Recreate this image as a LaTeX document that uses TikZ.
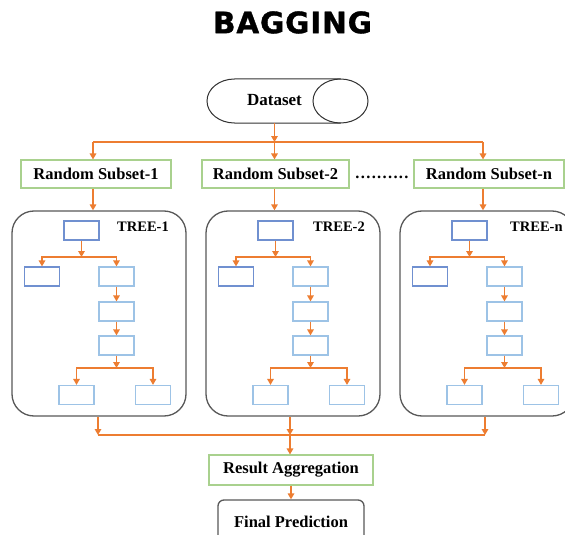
\documentclass[tikz,border=0pt]{standalone}
\usepackage{fontspec}
\setmainfont{Liberation Serif}
\newfontfamily\titlefont{DejaVu Sans}
\usetikzlibrary{arrows.meta}

\definecolor{flow}{HTML}{ED7D31}
\definecolor{subsetgreen}{HTML}{A9D18E}
\definecolor{boxdark}{HTML}{7090D0}
\definecolor{boxlight}{HTML}{9DC3E6}
\definecolor{frame}{HTML}{595959}

\tikzset{
  arr/.style={draw=flow, line width=1.5pt, -{Triangle[length=6pt,width=6.5pt]}},
  flowline/.style={draw=flow, line width=1.5pt},
  subset/.style={draw=subsetgreen, line width=1.1pt, minimum height=28pt,
    inner sep=0pt, font=\bfseries\fontsize{16.5}{18}\selectfont},
  treeframe/.style={draw=frame, line width=1.3pt, rounded corners=22pt,
    minimum width=174pt, minimum height=205pt, inner sep=0pt},
  leafa/.style={draw=boxdark, line width=1.2pt, minimum width=35pt,
    minimum height=19pt, inner sep=0pt},
  leafb/.style={leafa, draw=boxlight},
  treelabel/.style={font=\bfseries\fontsize{14.5}{16}\selectfont,
    anchor=west, inner sep=0pt},
  plaintext/.style={font=\bfseries\fontsize{16.5}{18}\selectfont, inner sep=0pt},
  storeline/.style={draw=black!80, line width=1pt},
}

% one decision tree inside its rounded frame
% #1 name prefix, #2 horizontal offset, #3 label, #4 label left edge (local)
\newcommand\bagtree[4]{%
  \begin{scope}[xshift=#2pt]
    \node[treeframe] (#1) at (99,313.5) {};
    \node[treelabel] (#1lab) at (#4,227) {#3};
    \node[leafa] (#1root) at (81.5,230.5) {};
    \node[leafa] (#1left) at (42,276.5) {};
    \node[leafb] (#1ra) at (116.5,276.5) {};
    \node[leafb] (#1rb) at (116.5,311.5) {};
    \node[leafb] (#1rc) at (116.5,345.5) {};
    \node[leafb] (#1la) at (76.5,395) {};
    \node[leafb] (#1lb) at (153,395) {};
    \coordinate (#1sa) at (#1root.south |- 0,257);
    \coordinate (#1sb) at (#1rc.south |- 0,368);
    \draw[arr] (#1root.south) -- (#1sa);
    \draw[arr] (#1sa) -| (#1left.north);
    \draw[arr] (#1sa) -| (#1ra.north);
    \draw[arr] (#1ra.south) -- (#1rb.north);
    \draw[arr] (#1rb.south) -- (#1rc.north);
    \draw[arr] (#1rc.south) -- (#1sb);
    \draw[arr] (#1sb) -| (#1la.north);
    \draw[arr] (#1sb) -| (#1lb.north);
  \end{scope}}

\begin{document}
\begin{tikzpicture}[x=1pt, y=-1pt]
  \fill[white] (0,0) rectangle (565,535);
  \useasboundingbox (0,0) rectangle (565,535);

  % title
  \node[font=\titlefont\bfseries\fontsize{29.5}{32}\selectfont\addfontfeatures{LetterSpace=3,FakeBold=1.2},
    inner sep=0pt] (title) at (292.5,22.5) {BAGGING};

  % dataset store: a lying cylinder
  \node[minimum width=161pt, minimum height=44pt, inner sep=0pt] (data) at (287.5,101) {};
  \draw[storeline] (340.5,79) -- (234.5,79)
    arc[start angle=270, end angle=90, x radius=27.5, y radius=22] -- (340.5,123);
  \draw[storeline] (340.5,101) ellipse [x radius=27.5, y radius=22];
  \node[plaintext, font=\bfseries\fontsize{17}{19}\selectfont]
    (datatext) at (274.5,100) {Dataset};

  % bootstrap subsets
  \node[subset, minimum width=150pt] (sub1) at (96,174) {Random Subset-1};
  \node[subset, minimum width=147pt] (sub2) at (275.5,174) {Random Subset-2};
  \node[subset, minimum width=150pt] (subn) at (489,174) {Random Subset-n};
  \node[font=\bfseries\fontsize{16.5}{18}\selectfont\addfontfeatures{LetterSpace=8},
    inner sep=0pt] (dots) at (382,177) {..........};

  % fan-out from the dataset
  \coordinate (fa) at (93,142);
  \coordinate (fb) at (datatext.south |- 0,142);
  \coordinate (fn) at (483,142);
  \draw[arr] (datatext.south |- data.south) -- (fb);
  \draw[flowline] (fa) -- (fn);
  \draw[arr] (fa) -- (fa |- sub1.north);
  \draw[arr] (fb) -- (fb |- sub2.north);
  \draw[arr] (fn) -- (fn |- subn.north);

  % trees
  \bagtree{ta}{0}{TREE-1}{117}
  \bagtree{tb}{194}{TREE-2}{119}
  \bagtree{tn}{388}{TREE-n}{122}

  % subsets feed trees
  \draw[arr] (fa |- sub1.south) -- (fa |- ta.north);
  \draw[arr] (fb |- sub2.south) -- (fb |- tb.north);
  \draw[arr] (fn |- subn.south) -- (fn |- tn.north);

  % aggregation
  \node[subset, minimum width=164pt, minimum height=30pt] (agg) at (291,470)
    {Result Aggregation};
  \node[draw=frame, line width=1.3pt, rounded corners=6pt, minimum width=146pt,
    minimum height=44pt, inner sep=0pt, font=\bfseries\fontsize{16.5}{18}\selectfont]
    (final) at (291,522) {Final Prediction};

  \coordinate (ga) at (98,435);
  \coordinate (gb) at (290,435);
  \coordinate (gn) at (485,435);
  \draw[arr] (ga |- ta.south) -- (ga);
  \draw[arr] (gb |- tb.south) -- (gb);
  \draw[arr] (gn |- tn.south) -- (gn);
  \draw[flowline] (ga) -- (gn);
  \draw[arr] (gb) -- (gb |- agg.north);
  \draw[arr] (agg.south) -- (final.north);
\end{tikzpicture}
\end{document}
